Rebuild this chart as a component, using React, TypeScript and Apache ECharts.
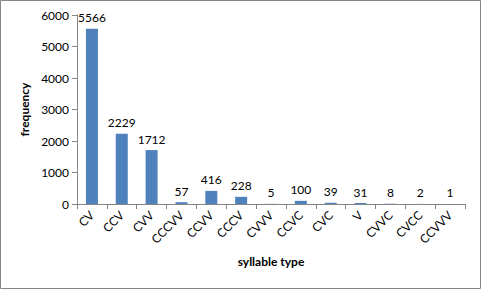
import React, { useEffect, useRef } from "react";
import * as echarts from "echarts";

const categories = ["CV", "CCV", "CVV", "CCCVV", "CCVV", "CCCV", "CVVV", "CCVC", "CVC", "V", "CVVC", "CVCC", "CCVVV"];
const frequencies = [5566, 2229, 1712, 57, 416, 228, 5, 100, 39, 31, 8, 2, 1];

const FONT = "Lato, 'Open Sans', sans-serif";

export default function App() {
  const ref = useRef<HTMLDivElement>(null);
  useEffect(() => {
    const chart = echarts.init(ref.current!, null, { renderer: "svg" });
    chart.setOption({
      animation: false,
      backgroundColor: "#ffffff",
      graphic: [
        {
          type: "rect",
          shape: { x: 0.5, y: 0.5, width: 480, height: 288 },
          style: { fill: "none", stroke: "#868686", lineWidth: 1 },
          silent: true,
        },
      ],
      grid: { left: 77, right: 16, top: 15, bottom: 85, containLabel: false },
      xAxis: {
        type: "category",
        data: categories,
        name: "syllable type",
        nameLocation: "middle",
        nameGap: 51,
        nameTextStyle: { fontFamily: FONT, fontSize: 12, fontWeight: "bold", color: "#000" },
        axisLine: { lineStyle: { color: "#868686" } },
        axisTick: { show: true, length: 5, alignWithLabel: false, lineStyle: { color: "#868686" } },
        axisLabel: { rotate: 45, fontFamily: FONT, fontSize: 12, color: "#000", margin: 9, interval: 0 },
      },
      yAxis: {
        type: "value",
        min: 0,
        max: 6000,
        interval: 1000,
        name: "frequency",
        nameLocation: "middle",
        nameGap: 42,
        nameTextStyle: { fontFamily: FONT, fontSize: 12, fontWeight: "bold", color: "#000" },
        axisLine: { show: true, lineStyle: { color: "#868686" } },
        axisTick: { show: true, length: 5, lineStyle: { color: "#868686" } },
        splitLine: { show: false },
        axisLabel: { fontFamily: FONT, fontSize: 12, color: "#000", margin: 8, formatter: (v: number) => String(v) },
      },
      series: [
        {
          type: "bar",
          data: frequencies,
          barWidth: 12,
          itemStyle: { color: "#4F81BD" },
          label: {
            show: true,
            position: "top",
            distance: 5,
            fontFamily: FONT,
            fontSize: 12,
            color: "#000",
          },
        },
      ],
    });
    return () => chart.dispose();
  }, []);
  return (
    <div
      ref={ref}
      style={{ position: "fixed", left: 0, top: 0, width: 481, height: 289 }}
    />
  );
}
